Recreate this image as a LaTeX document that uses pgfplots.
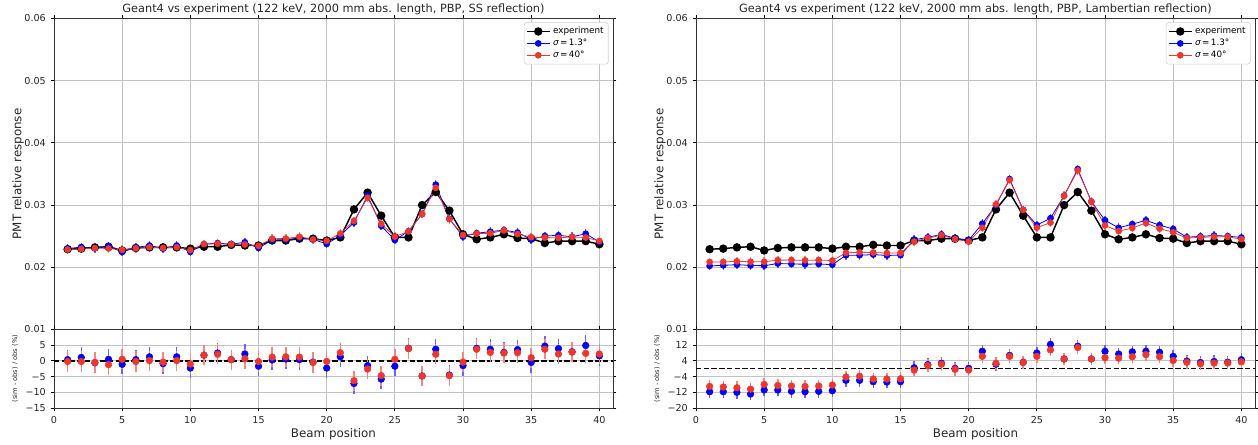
\documentclass[border=0pt]{standalone}
\usepackage{fontspec}
\setmainfont{DejaVu Sans}
\usepackage{pgfplots}
\pgfplotsset{compat=1.18}
\usepackage{pgfplotstable}
\definecolor{mred}{RGB}{235,55,45}
\definecolor{gridc}{RGB}{195,195,195}

\pgfplotstableread{
x E SSb SSr SSrb SSrr Lb Lr Lrb Lrr
1 0.0229 0.02300 0.02285 0.4 -0.2 0.02022 0.02084 -11.7 -9.0
2 0.0230 0.02325 0.02295 1.1 -0.2 0.02031 0.02086 -11.7 -9.3
3 0.0232 0.02306 0.02308 -0.6 -0.5 0.02042 0.02095 -12.0 -9.7
4 0.0233 0.02342 0.02302 0.5 -1.2 0.02029 0.02088 -12.9 -10.4
5 0.0227 0.02245 0.02281 -1.1 0.5 0.02025 0.02088 -10.8 -8.0
6 0.0231 0.02319 0.02305 0.4 -0.2 0.02061 0.02114 -10.8 -8.5
7 0.0232 0.02350 0.02322 1.3 0.1 0.02053 0.02116 -11.5 -8.8
8 0.0232 0.02299 0.02311 -0.9 -0.4 0.02049 0.02111 -11.7 -9.0
9 0.0232 0.02350 0.02322 1.3 0.1 0.02053 0.02116 -11.5 -8.8
10 0.0230 0.02247 0.02277 -2.3 -1.0 0.02042 0.02109 -11.2 -8.3
11 0.0233 0.02372 0.02372 1.8 1.8 0.02193 0.02232 -5.9 -4.2
12 0.0233 0.02388 0.02379 2.5 2.1 0.02193 0.02241 -5.9 -3.8
13 0.0236 0.02369 0.02369 0.4 0.4 0.02204 0.02237 -6.6 -5.2
14 0.0235 0.02402 0.02366 2.2 0.7 0.02190 0.02228 -6.8 -5.2
15 0.0235 0.02310 0.02345 -1.7 -0.2 0.02195 0.02230 -6.6 -5.1
16 0.0243 0.02437 0.02459 0.3 1.2 0.02442 0.02413 0.5 -0.7
17 0.0243 0.02445 0.02462 0.6 1.3 0.02481 0.02469 2.1 1.6
18 0.0246 0.02470 0.02490 0.4 1.2 0.02529 0.02517 2.8 2.3
19 0.0246 0.02450 0.02448 -0.4 -0.5 0.02465 0.02453 0.2 -0.3
20 0.0243 0.02374 0.02425 -2.3 -0.2 0.02435 0.02413 0.2 -0.7
21 0.0248 0.02512 0.02544 1.3 2.6 0.02701 0.02636 8.9 6.3
22 0.0293 0.02719 0.02745 -7.2 -6.3 0.02997 0.03012 2.3 2.8
23 0.0320 0.03152 0.03117 -1.5 -2.6 0.03418 0.03402 6.8 6.3
24 0.0283 0.02666 0.02697 -5.8 -4.7 0.02923 0.02921 3.3 3.2
25 0.0248 0.02438 0.02492 -1.7 0.5 0.02678 0.02636 8.0 6.3
26 0.0248 0.02579 0.02577 4.0 3.9 0.02788 0.02718 12.4 9.6
27 0.0300 0.02856 0.02856 -4.8 -4.8 0.03150 0.03150 5.0 5.0
28 0.0321 0.03329 0.03277 3.7 2.1 0.03579 0.03557 11.5 10.8
29 0.0291 0.02779 0.02773 -4.5 -4.7 0.03056 0.03056 5.0 5.0
30 0.0253 0.02492 0.02520 -1.5 -0.4 0.02755 0.02672 8.9 5.6
31 0.0245 0.02548 0.02541 4.0 3.7 0.02634 0.02582 7.5 5.4
32 0.0248 0.02572 0.02547 3.7 2.7 0.02693 0.02631 8.6 6.1
33 0.0253 0.02598 0.02593 2.7 2.5 0.02755 0.02712 8.9 7.2
34 0.0247 0.02559 0.02534 3.6 2.6 0.02677 0.02621 8.4 6.1
35 0.0246 0.02448 0.02485 -0.5 1.0 0.02615 0.02563 6.3 4.2
36 0.0239 0.02502 0.02478 4.7 3.7 0.02483 0.02469 3.9 3.3
37 0.0242 0.02514 0.02473 3.9 2.2 0.02497 0.02481 3.2 2.5
38 0.0242 0.02490 0.02488 2.9 2.8 0.02510 0.02490 3.7 2.9
39 0.0242 0.02539 0.02478 4.9 2.4 0.02500 0.02490 3.3 2.9
40 0.0237 0.02408 0.02422 1.6 2.2 0.02479 0.02453 4.6 3.5
}\data

\pgfplotsset{
  base/.style={scale only axis, width=419.25pt, xmin=0, xmax=41,
    xtick={0,5,10,15,20,25,30,35,40},
    scaled y ticks=false, scaled x ticks=false,
    grid=major, grid style={gridc, line width=0.6pt},
    tick align=outside, major tick length=2.6pt,
    tick style={black, line width=0.6pt},
    axis line style={line width=0.6pt, black!80},
    tick label style={font=\fontsize{7.2}{8}\selectfont, text=black!85},
    label style={font=\fontsize{8.9}{10}\selectfont, text=black!85},
    /pgf/number format/assume math mode=true},
  top/.style={base, height=233.25pt, ymin=0.01, ymax=0.06,
    ytick={0.01,0.02,0.03,0.04,0.05,0.06},
    yticklabels={0.01,0.02,0.03,0.04,0.05,0.06},
    xticklabels={},
    ylabel={PMT relative response},
    ylabel style={at={(axis description cs:-0.0644,0.5)}, anchor=center, rotate=0},
    title style={at={(axis description cs:0.5,1)}, anchor=base, yshift=-1.5pt,
      font=\fontsize{8.5}{10}\selectfont, text=black!85},
    legend cell align=left,
    legend style={at={(0.992,0.988)}, anchor=north east,
      font=\fontsize{6.6}{8}\selectfont, draw=black!20, rounded corners=2pt,
      fill=white, row sep=-1.5pt, inner sep=1.5pt}},
  bot/.style={base, height=58.9pt, xlabel={Beam position},
    xlabel style={yshift=3pt},
    xticklabels={0,5,10,15,20,25,30,35,40},
    ylabel={(sim - obs) / obs (\%)},
    ylabel style={at={(axis description cs:-0.0698,0.5)}, anchor=center, font=\fontsize{5}{6}\selectfont, text=black!85}},
  expline/.style={black, line width=1.1pt, mark=*, mark size=2.6pt, mark options={solid}},
  simb/.style={blue, line width=0.6pt, mark=*, mark size=2.2pt,
    error bars/.cd, y dir=both, y fixed=0.0007, error mark=none,
    error bar style={blue!60, line width=1.1pt}},
  simr/.style={mred, line width=0.6pt, mark=*, mark size=2.2pt,
    error bars/.cd, y dir=both, y fixed=0.0007, error mark=none,
    error bar style={mred!60, line width=1.1pt}},
  resb/.style={blue, only marks, mark=*, mark size=2.5pt,
    error bars/.cd, y dir=both, y fixed=3.2, error mark=none,
    error bar style={blue!60, line width=1.1pt}},
  resr/.style={mred, only marks, mark=*, mark size=2.5pt,
    error bars/.cd, y dir=both, y fixed=3.2, error mark=none,
    error bar style={mred!60, line width=1.1pt}},
  zeroline/.style={black, line width=1.1pt, dash pattern=on 4pt off 1.8pt},
}

\begin{document}
\begin{tikzpicture}
\useasboundingbox (0,0) rectangle (943.5pt,333pt);

% ---------- left: SS reflection ----------
\begin{axis}[top, at={(40.5pt,85.9pt)}, anchor=south west,
  title={Geant4 vs experiment (122 keV, 2000 mm abs. length, PBP, SS reflection)}]
\addplot[expline] table[x=x, y=E] {\data};
\addlegendentry{experiment}
\addplot[simb] table[x=x, y=SSb] {\data};
\addlegendentry{{\itshape σ}\,=\,1.3°}
\addplot[simr] table[x=x, y=SSr] {\data};
\addlegendentry{{\itshape σ}\,=\,40°}
\end{axis}

\begin{axis}[bot, at={(40.5pt,27pt)}, anchor=south west,
  ymin=-15, ymax=10, ytick={-15,-10,-5,0,5},
  yticklabels={−15,−10,−5,0,5}]
\addplot[zeroline] coordinates {(0,0) (41,0)};
\addplot[resb] table[x=x, y=SSrb] {\data};
\addplot[resr] table[x=x, y=SSrr] {\data};
\end{axis}

% ---------- right: Lambertian reflection ----------
\begin{axis}[top, at={(522pt,85.9pt)}, anchor=south west,
  title={Geant4 vs experiment (122 keV, 2000 mm abs. length, PBP, Lambertian reflection)}]
\addplot[expline] table[x=x, y=E] {\data};
\addlegendentry{experiment}
\addplot[simb] table[x=x, y=Lb] {\data};
\addlegendentry{{\itshape σ}\,=\,1.3°}
\addplot[simr] table[x=x, y=Lr] {\data};
\addlegendentry{{\itshape σ}\,=\,40°}
\end{axis}

\begin{axis}[bot, at={(522pt,27pt)}, anchor=south west,
  ymin=-20, ymax=20, ytick={-20,-12,-4,4,12},
  yticklabels={−20,−12,−4,4,12}]
\addplot[zeroline] coordinates {(0,0) (41,0)};
\addplot[resb] table[x=x, y=Lrb] {\data};
\addplot[resr] table[x=x, y=Lrr] {\data};
\end{axis}
\end{tikzpicture}
\end{document}
